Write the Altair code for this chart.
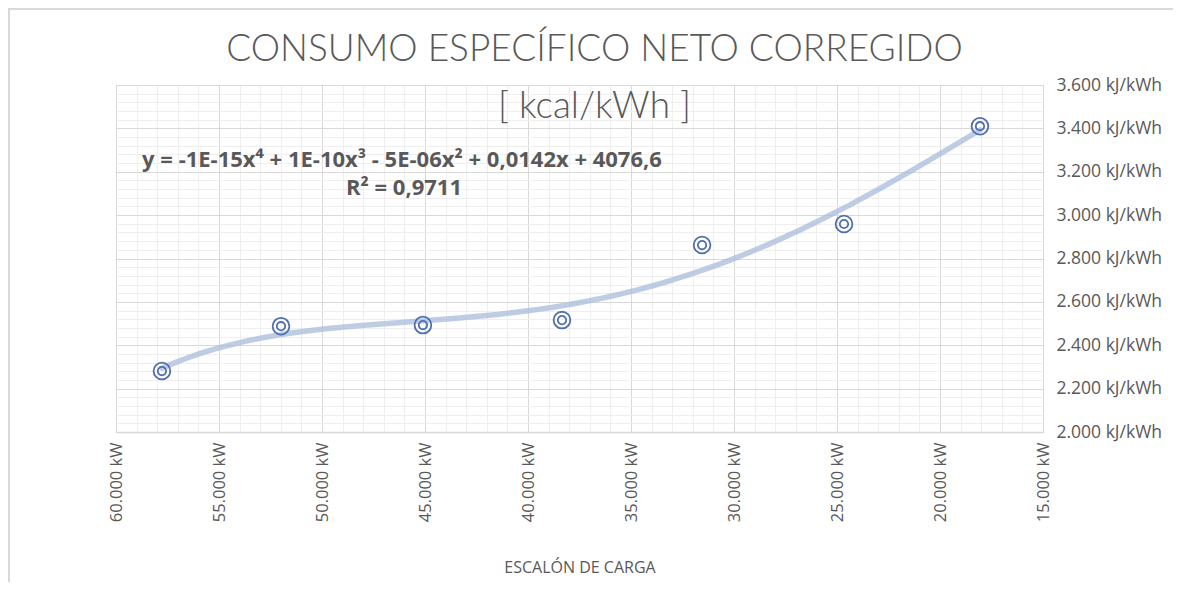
import altair as alt
import pandas as pd

# ---- data ----
carga_kw = [57770, 51990, 45100, 38350, 31550, 24660, 18060]
consumo = [2281, 2488, 2493, 2516, 2862, 2959, 3410]

x_ticks = list(range(15000, 60001, 1000))
y_ticks = list(range(2000, 3601, 40))

titulo = ["CONSUMO ESPECÍFICO NETO CORREGIDO", "[ kcal/kWh ]"]
ecuacion = "y = -1E-15x⁴ + 1E-10x³ - 5E-06x² + 0,0142x + 4076,6"
r2_txt = "R² = 0,9711"

df = pd.DataFrame({"carga": carga_kw, "consumo": consumo})

GREY = "#595959"
MAJOR = "#d9d9d9"
MINOR = "#efefef"
FONT = "Open Sans"

x_scale = alt.Scale(domain=[15000, 60000], reverse=True, nice=False, zero=False)
y_scale = alt.Scale(domain=[2000, 3600], nice=False, zero=False)

x_axis = alt.Axis(
    values=x_ticks, tickCount=500,
    labelExpr="datum.value % 5000 === 0 ? replace(format(datum.value, ',.0f'), ',', '.') + ' kW' : ''",
    labelAngle=-90, labelAlign="right", labelBaseline="middle",
    labelFontSize=16.5, labelColor=GREY, labelFont=FONT, labelPadding=10,
    labelOverlap=False, labelFlush=False,
    ticks=False, domainColor=MAJOR, domainWidth=1.5,
    gridColor={"condition": {"test": "datum.value % 5000 === 0", "value": MAJOR}, "value": MINOR},
    title="ESCALÓN DE CARGA", titleFontSize=16, titleColor=GREY, titleFont=FONT,
    titleFontWeight="normal", titlePadding=38,
)
y_axis = alt.Axis(
    orient="right", values=y_ticks, tickCount=500,
    labelExpr="datum.value % 200 === 0 ? replace(format(datum.value, ',.0f'), ',', '.') + ' kJ/kWh' : ''",
    labelFontSize=17.5, labelColor=GREY, labelFont=FONT, labelPadding=13,
    labelOverlap=False, labelFlush=False,
    ticks=False, domain=False,
    gridColor={"condition": {"test": "datum.value % 200 === 0", "value": MAJOR}, "value": MINOR},
    title=None,
)

base = alt.Chart(df)

trend = base.transform_regression(
    "carga", "consumo", method="poly", order=4
).mark_line(color="#aabcdb", strokeWidth=5.5, opacity=0.75, strokeCap="round").encode(
    x=alt.X("carga:Q", scale=x_scale, axis=x_axis),
    y=alt.Y("consumo:Q", scale=y_scale, axis=y_axis),
)

outer = base.mark_point(shape="circle", filled=False, size=280, color="#4f6faf", strokeWidth=1.8, opacity=1).encode(
    x=alt.X("carga:Q", scale=x_scale),
    y=alt.Y("consumo:Q", scale=y_scale),
)
inner = base.mark_point(shape="circle", filled=False, size=70, color="#4f6faf", strokeWidth=1.8, opacity=1).encode(
    x=alt.X("carga:Q", scale=x_scale),
    y=alt.Y("consumo:Q", scale=y_scale),
)

eq1 = alt.Chart(pd.DataFrame({"t": [ecuacion]})).mark_text(
    align="center", baseline="middle", fontSize=22, fontWeight="bold", font=FONT, color=GREY
).encode(text="t:N", x=alt.value(286), y=alt.value(75))
eq2 = alt.Chart(pd.DataFrame({"t": [r2_txt]})).mark_text(
    align="center", baseline="middle", fontSize=22, fontWeight="bold", font=FONT, color=GREY
).encode(text="t:N", x=alt.value(288), y=alt.value(103))

border_left = alt.Chart(pd.DataFrame({"a": [0]})).mark_rule(color=MAJOR, strokeWidth=2).encode(
    x=alt.value(-107), x2=alt.value(-107), y=alt.value(-77), y2=alt.value(500)
)
border_top = alt.Chart(pd.DataFrame({"a": [0]})).mark_rule(color=MAJOR, strokeWidth=2).encode(
    y=alt.value(-76), y2=alt.value(-76), x=alt.value(-108), x2=alt.value(1057)
)

chart = alt.layer(border_left, border_top, trend, outer, inner, eq1, eq2).properties(
    width=927, height=347,
    title=alt.TitleParams(
        text=titulo, anchor="middle", fontSize=37, font="Lato", fontWeight=300,
        color=GREY, lineHeight=57, offset=-119, dx=15,
    ),
    autosize=alt.AutoSizeParams(type="none"),
    padding={"left": 108, "top": 77, "right": 130, "bottom": 150},
    background="white",
).configure_view(stroke=None)

chart.save("out.html", embed_options={"renderer": "svg", "actions": False})
